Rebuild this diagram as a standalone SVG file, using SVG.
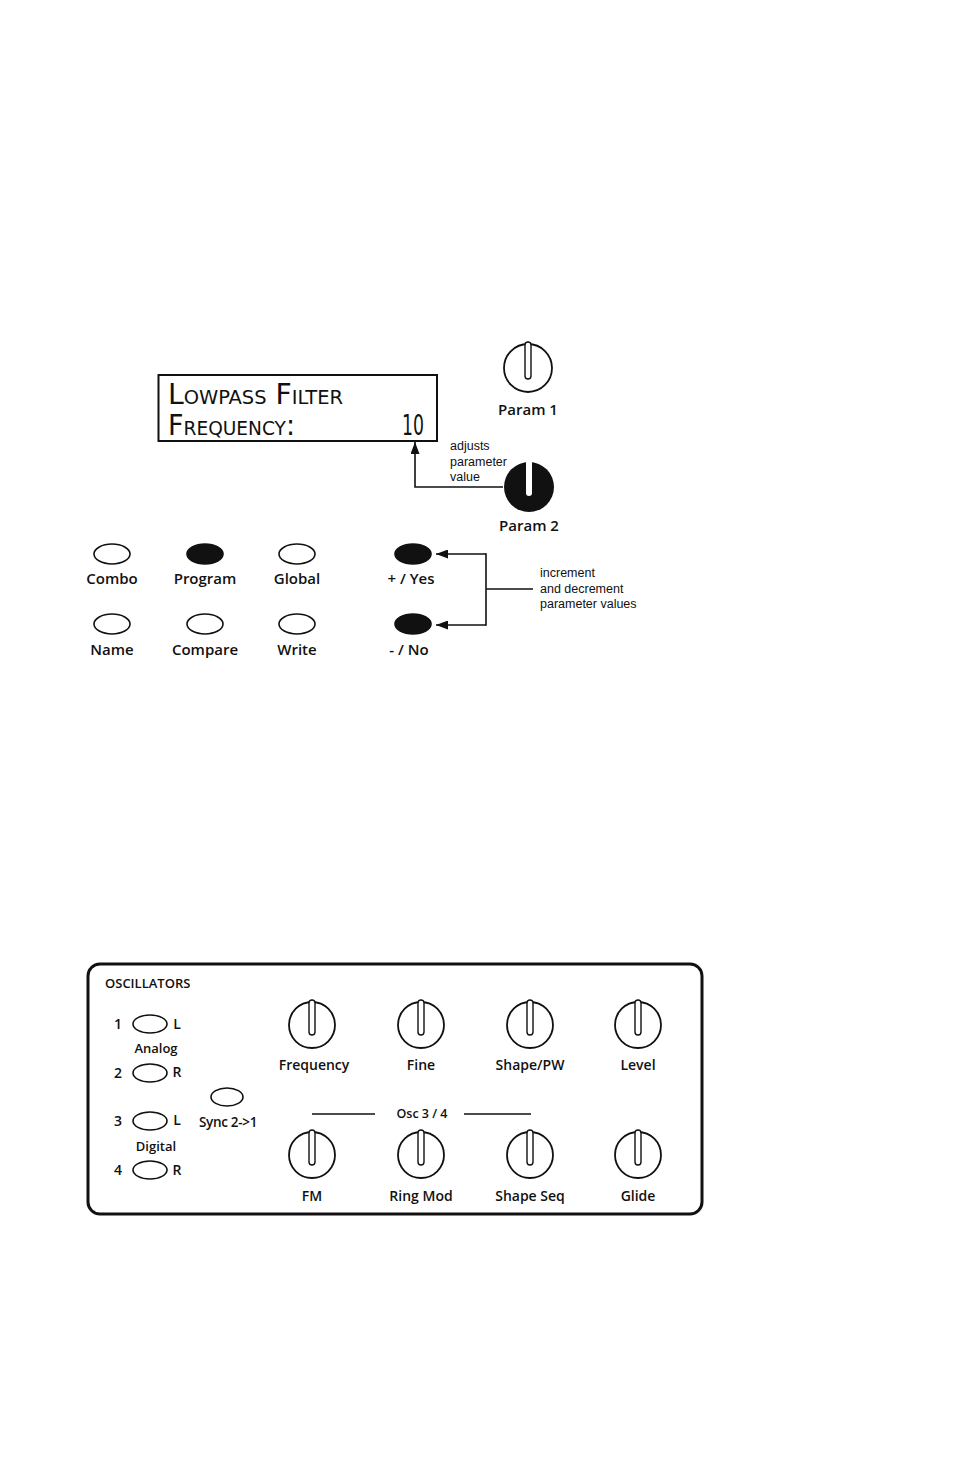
<svg xmlns="http://www.w3.org/2000/svg" width="954" height="1474" viewBox="0 0 954 1474">
<style>
.lbl{font-family:"Open Sans","Liberation Sans",sans-serif;font-size:15px;font-weight:600;fill:#111;text-anchor:middle}
.pl{font-family:"Open Sans","Liberation Sans",sans-serif;font-size:14px;font-weight:600;fill:#111;text-anchor:middle}
.sm{font-family:"Liberation Sans",Arial,sans-serif;font-size:12.5px;fill:#111}
.lcd{font-family:"DejaVu Sans Condensed","DejaVu Sans",sans-serif;font-size:29px;font-variant:small-caps;fill:#111}
.led{fill:#fff;stroke:#111;stroke-width:1.6}
.ledon{fill:#111;stroke:#111;stroke-width:1.6}
.knob{fill:#fff;stroke:#111;stroke-width:1.8}
.ind{fill:#fff;stroke:#111;stroke-width:1.4}
.line{fill:none;stroke:#111;stroke-width:1.6}
</style>
<defs>
<marker id="ah" markerWidth="12" markerHeight="9" refX="12" refY="4.5" orient="auto" markerUnits="userSpaceOnUse">
<path d="M0,0 L12,4.5 L0,9 z" fill="#111"/>
</marker>
<g id="knobW">
<circle r="24" class="knob"/>
<rect x="-3" y="-26" width="6" height="37" rx="3" class="ind"/>
</g>
<g id="knobS">
<circle r="23" class="knob"/>
<rect x="-3" y="-25" width="6" height="35" rx="3" class="ind"/>
</g>
</defs>
<rect width="954" height="1474" fill="#fff"/>

<g id="lcd">
<rect x="158.5" y="375" width="278.5" height="66" fill="#fff" stroke="#111" stroke-width="2"/>
<text class="lcd" x="168" y="404" textLength="175" lengthAdjust="spacingAndGlyphs">Lowpass Filter</text>
<text class="lcd" x="168" y="435" textLength="127" lengthAdjust="spacingAndGlyphs">Frequency:</text>
<text class="lcd" x="402" y="435" textLength="22" lengthAdjust="spacingAndGlyphs">10</text>
</g>

<g id="param1">
<use href="#knobW" x="528" y="368"/>
<text class="lbl" x="528" y="415">Param 1</text>
</g>
<g id="param2">
<circle cx="529" cy="487" r="25" fill="#111"/>
<rect x="526" y="460" width="6" height="36" rx="3" fill="#fff"/>
<text class="lbl" x="529" y="531">Param 2</text>
</g>
<g id="note-adjusts">
<text class="sm" x="450" y="450">adjusts</text>
<text class="sm" x="450" y="466">parameter</text>
<text class="sm" x="450" y="481">value</text>
</g>

<g id="btn-combo"><ellipse cx="112" cy="554" rx="18" ry="10" class="led"/><text class="lbl" x="112" y="584">Combo</text></g>
<g id="btn-program"><ellipse cx="205" cy="554" rx="18" ry="10" class="ledon"/><text class="lbl" x="205" y="584">Program</text></g>
<g id="btn-global"><ellipse cx="297" cy="554" rx="18" ry="10" class="led"/><text class="lbl" x="297" y="584">Global</text></g>
<g id="btn-yes"><ellipse cx="413" cy="554" rx="18" ry="10" class="ledon"/><text class="lbl" x="411" y="584">+ / Yes</text></g>
<g id="btn-name"><ellipse cx="112" cy="624" rx="18" ry="10" class="led"/><text class="lbl" x="112" y="655">Name</text></g>
<g id="btn-compare"><ellipse cx="205" cy="624" rx="18" ry="10" class="led"/><text class="lbl" x="205" y="655">Compare</text></g>
<g id="btn-write"><ellipse cx="297" cy="624" rx="18" ry="10" class="led"/><text class="lbl" x="297" y="655">Write</text></g>
<g id="btn-no"><ellipse cx="413" cy="624" rx="18" ry="10" class="ledon"/><text class="lbl" x="409" y="655">- / No</text></g>
<g id="note-incdec">
<text class="sm" x="540" y="577">increment</text>
<text class="sm" x="540" y="593">and decrement</text>
<text class="sm" x="540" y="608">parameter values</text>
</g>

<g id="connectors">
<polyline class="line" points="503,487 415,487 415,442" marker-end="url(#ah)"/>
<polyline class="line" points="486,554 436,554" marker-end="url(#ah)"/>
<polyline class="line" points="486,625 436,625" marker-end="url(#ah)"/>
<line class="line" x1="486" y1="553.2" x2="486" y2="625.8"/>
<line class="line" x1="486" y1="589" x2="533" y2="589"/>
</g>

<g id="osc-panel">
<rect x="88" y="964" width="614" height="250" rx="12" fill="#fff" stroke="#111" stroke-width="3"/>
<text class="pl" x="105" y="988" style="text-anchor:start;font-size:13px">OSCILLATORS</text>
</g>
<g id="osc1"><text class="pl" x="118" y="1029">1</text><ellipse cx="150" cy="1024" rx="17" ry="9" class="led"/><text class="pl" x="177" y="1029">L</text></g>
<g id="lbl-analog"><text class="pl" x="156" y="1053" style="font-size:13px">Analog</text></g>
<g id="osc2"><text class="pl" x="118" y="1078">2</text><ellipse cx="150" cy="1073" rx="17" ry="9" class="led"/><text class="pl" x="177" y="1077">R</text></g>
<g id="osc3"><text class="pl" x="118" y="1126">3</text><ellipse cx="150" cy="1121" rx="17" ry="9" class="led"/><text class="pl" x="177" y="1125">L</text></g>
<g id="lbl-digital"><text class="pl" x="156" y="1151" style="font-size:13px">Digital</text></g>
<g id="osc4"><text class="pl" x="118" y="1175">4</text><ellipse cx="150" cy="1170" rx="17" ry="9" class="led"/><text class="pl" x="177" y="1175">R</text></g>
<g id="sync"><ellipse cx="227" cy="1097" rx="16" ry="9" class="led"/><text class="pl" x="228" y="1127" style="font-size:13.5px;letter-spacing:-0.3px">Sync 2-&gt;1</text></g>

<g id="k-frequency"><use href="#knobS" x="312" y="1025"/><text class="pl" x="314" y="1070">Frequency</text></g>
<g id="k-fine"><use href="#knobS" x="421" y="1025"/><text class="pl" x="421" y="1070">Fine</text></g>
<g id="k-shapepw"><use href="#knobS" x="530" y="1025"/><text class="pl" x="530" y="1070">Shape/PW</text></g>
<g id="k-level"><use href="#knobS" x="638" y="1025"/><text class="pl" x="638" y="1070">Level</text></g>
<g id="osc34">
<line class="line" x1="312" y1="1114" x2="375" y2="1114" stroke-width="1.4"/>
<text class="pl" x="422" y="1118" style="font-size:12.5px">Osc 3 / 4</text>
<line class="line" x1="464" y1="1114" x2="531" y2="1114" stroke-width="1.4"/>
</g>
<g id="k-fm"><use href="#knobS" x="312" y="1155"/><text class="pl" x="312" y="1201">FM</text></g>
<g id="k-ringmod"><use href="#knobS" x="421" y="1155"/><text class="pl" x="421" y="1201">Ring Mod</text></g>
<g id="k-shapeseq"><use href="#knobS" x="530" y="1155"/><text class="pl" x="530" y="1201">Shape Seq</text></g>
<g id="k-glide"><use href="#knobS" x="638" y="1155"/><text class="pl" x="638" y="1201">Glide</text></g>
</svg>
